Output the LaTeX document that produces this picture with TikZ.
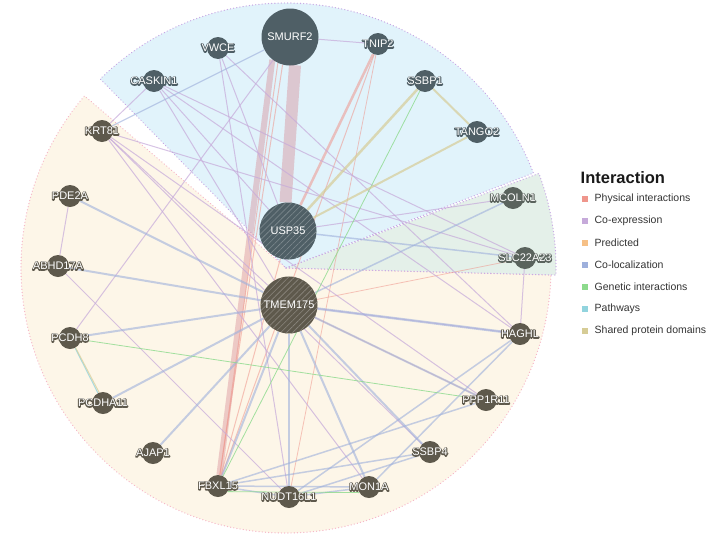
\documentclass[tikz,border=0pt]{standalone}
\usepackage{fontspec}
\setmainfont{Liberation Sans}
\usetikzlibrary{patterns.meta,positioning}

\definecolor{bsector}{RGB}{225,243,251}
\definecolor{ysector}{RGB}{253,246,232}
\definecolor{gsector}{RGB}{228,240,233}
\definecolor{bborder}{RGB}{200,168,228}
\definecolor{yborder}{RGB}{246,184,200}
\definecolor{bnodec}{RGB}{79,95,102}
\definecolor{ynodec}{RGB}{94,89,76}
\definecolor{gnodec}{RGB}{90,99,93}
\definecolor{physc}{RGB}{239,150,140}
\definecolor{bandc}{RGB}{215,140,150}
\definecolor{coexpc}{RGB}{198,170,218}
\definecolor{predc}{RGB}{246,192,134}
\definecolor{colocc}{RGB}{158,176,220}
\definecolor{genetc}{RGB}{140,218,140}
\definecolor{pathc}{RGB}{146,212,222}
\definecolor{shdomc}{RGB}{214,204,150}

% stroked text for the dark halo round the labels
\newcommand{\halo}[1]{\special{pdf:literal direct 1 Tr 2 w 1 j}#1\special{pdf:literal direct 0 Tr 1 w 0 j}}

\pgfdeclarelayer{sectors}
\pgfdeclarelayer{edges}
\pgfsetlayers{sectors,edges,main}

\tikzset{gene/.style={circle, inner sep=0pt, minimum size=22pt, fill=#1}}
\tikzset{hub/.style={gene=#1, minimum size=57pt}}
\tikzset{query/.style={hub=#1, postaction={pattern={Lines[angle=45, distance=4.2pt, line width=0.6pt]}, pattern color=#1!72!white}}}
\tikzset{glabel/.style={text=white, inner sep=0pt, font=\fontsize{11}{11}\selectfont}}
\tikzset{ghalo/.style={text=#1, inner sep=0pt, font=\fontsize{11}{11}\selectfont}}
\tikzset{border/.style={line width=1.3pt, dash pattern=on 0.1pt off 3.1pt, line cap=round}}
\tikzset{phys/.style={draw=physc, opacity=0.55, line width=#1}, phys/.default=1pt}
\tikzset{band/.style={draw=bandc, opacity=0.42, line width=#1}}
\tikzset{coexp/.style={draw=coexpc, opacity=0.7, line width=#1}, coexp/.default=1pt}
\tikzset{coloc/.style={draw=colocc, opacity=0.6, line width=#1}, coloc/.default=2pt}
\tikzset{genet/.style={draw=genetc, opacity=0.8, line width=#1}, genet/.default=0.8pt}
\tikzset{pathw/.style={draw=pathc, opacity=0.8, line width=#1}, pathw/.default=1pt}
\tikzset{shdom/.style={draw=shdomc, opacity=0.7, line width=#1}, shdom/.default=2pt}
\tikzset{legbox/.style={minimum size=6.5pt, inner sep=0pt}}
\tikzset{legtext/.style={inner sep=0pt, text=black!80, font=\fontsize{10.5}{10.5}\selectfont}}

\begin{document}
\begin{tikzpicture}[x=1pt, y=1pt]
\useasboundingbox (0,0) rectangle (709,-536);
\coordinate (c) at (286,-268);

% sectors
\begin{pgfonlayer}{sectors}
\fill[ysector] (c) -- ++(139.5:265) arc[start angle=139.5, end angle=358.5, radius=265] -- cycle;
\draw[yborder, border] (c) -- ++(139.5:265) arc[start angle=139.5, end angle=358.5, radius=265] -- cycle;
\fill[bsector] (c) -- ++(21:265) arc[start angle=21, end angle=134.5, radius=265] -- cycle;
\draw[bborder, border] (c) -- ++(21:265) arc[start angle=21, end angle=134.5, radius=265] -- cycle;
\fill[gsector] (c) -- ++(-1.5:270) arc[start angle=-1.5, end angle=20.5, radius=270] -- cycle;
\draw[bborder, border] (c) -- ++(-1.5:270) arc[start angle=-1.5, end angle=20.5, radius=270] -- cycle;
\end{pgfonlayer}

% genes
\path (290,-37) node[hub=bnodec] (smurf) {} node[glabel] (smurfl) {SMURF2};
\path (218,-48) node[gene=bnodec] (vwce) {} node[ghalo=bnodec] (vwceh) {\halo{VWCE}} node[glabel] (vwcel) {VWCE};
\path (378,-44) node[gene=bnodec] (tnip) {} node[ghalo=bnodec] (tniph) {\halo{TNIP2}} node[glabel] (tnipl) {TNIP2};
\path (154,-81) node[gene=bnodec] (caskin) {} node[ghalo=bnodec] (caskinh) {\halo{CASKIN1}} node[glabel] (caskinl) {CASKIN1};
\path (425,-81) node[gene=bnodec] (ssbpa) {} node[ghalo=bnodec] (ssbpah) {\halo{SSBP1}} node[glabel] (ssbpal) {SSBP1};
\path (477,-132) node[gene=bnodec] (tango) {} node[ghalo=bnodec] (tangoh) {\halo{TANGO2}} node[glabel] (tangol) {TANGO2};
\path (288,-231) node[query=bnodec] (usp) {} node[glabel] (uspl) {USP35};
\path (513,-198) node[gene=gnodec] (mcoln) {} node[ghalo=gnodec] (mcolnh) {\halo{MCOLN1}} node[glabel] (mcolnl) {MCOLN1};
\path (525,-258) node[gene=gnodec] (slc) {} node[ghalo=gnodec] (slch) {\halo{SLC22A23}} node[glabel] (slcl) {SLC22A23};
\path (289,-305) node[query=ynodec] (tmem) {} node[glabel] (tmeml) {TMEM175};
\path (102,-131) node[gene=ynodec] (krt) {} node[ghalo=ynodec] (krth) {\halo{KRT81}} node[glabel] (krtl) {KRT81};
\path (70,-196) node[gene=ynodec] (pde) {} node[ghalo=ynodec] (pdeh) {\halo{PDE2A}} node[glabel] (pdel) {PDE2A};
\path (58,-266) node[gene=ynodec] (abhd) {} node[ghalo=ynodec] (abhdh) {\halo{ABHD17A}} node[glabel] (abhdl) {ABHD17A};
\path (70,-338) node[gene=ynodec] (pcdh) {} node[ghalo=ynodec] (pcdhh) {\halo{PCDH8}} node[glabel] (pcdhl) {PCDH8};
\path (103,-403) node[gene=ynodec] (pcdha) {} node[ghalo=ynodec] (pcdhah) {\halo{PCDHA11}} node[glabel] (pcdhal) {PCDHA11};
\path (153,-453) node[gene=ynodec] (ajap) {} node[ghalo=ynodec] (ajaph) {\halo{AJAP1}} node[glabel] (ajapl) {AJAP1};
\path (218,-486) node[gene=ynodec] (fbxl) {} node[ghalo=ynodec] (fbxlh) {\halo{FBXL15}} node[glabel] (fbxll) {FBXL15};
\path (289,-497) node[gene=ynodec] (nudt) {} node[ghalo=ynodec] (nudth) {\halo{NUDT16L1}} node[glabel] (nudtl) {NUDT16L1};
\path (369,-487) node[gene=ynodec] (mon) {} node[ghalo=ynodec] (monh) {\halo{MON1A}} node[glabel] (monl) {MON1A};
\path (430,-452) node[gene=ynodec] (ssbpd) {} node[ghalo=ynodec] (ssbpdh) {\halo{SSBP4}} node[glabel] (ssbpdl) {SSBP4};
\path (486,-400) node[gene=ynodec] (ppp) {} node[ghalo=ynodec] (ppph) {\halo{PPP1R11}} node[glabel] (pppl) {PPP1R11};
\path (520,-334) node[gene=ynodec] (haghl) {} node[ghalo=ynodec] (haghlh) {\halo{HAGHL}} node[glabel] (haghll) {HAGHL};

% interactions
\begin{pgfonlayer}{edges}
\draw[band=12pt] (smurf.280) -- (usp.95);
\draw[band=6pt] (smurf.232) -- (fbxl);
\draw[phys] (smurf.245) -- (fbxl.80);
\draw[phys] (smurf.255) -- (fbxl);
\draw[phys=2.5pt] (tnip) -- (usp);
\draw[phys] (tnip) -- (fbxl);
\draw[phys=0.8pt] (tnip) -- (nudt);
\draw[phys] (usp) -- (fbxl);
\draw[phys=0.8pt] (tmem) -- (ppp);
\draw[phys=0.8pt] (tmem) -- (slc);
\draw[coexp] (smurf) -- (tnip);
\draw[coexp] (smurf) -- (pcdh);
\draw[coexp] (krt) -- (caskin);
\draw[coexp] (vwce) -- (usp);
\draw[coexp] (vwce) -- (nudt);
\draw[coexp] (vwce) -- (haghl);
\draw[coexp] (caskin) -- (slc);
\draw[coexp] (caskin) -- (haghl);
\draw[coexp] (caskin) -- (usp);
\draw[coexp] (caskin) -- (tmem);
\draw[coexp] (krt) -- (slc);
\draw[coexp] (krt) -- (tmem);
\draw[coexp] (krt) -- (ssbpd);
\draw[coexp] (krt) -- (ppp);
\draw[coexp] (krt) -- (mon);
\draw[coexp] (usp) -- (mcoln);
\draw[coexp] (slc) -- (haghl);
\draw[coexp] (pde) -- (abhd);
\draw[coexp] (abhd) -- (nudt);
\draw[coexp] (tmem) -- (haghl);
\draw[coloc=1.2pt] (krt) -- (smurf);
\draw[coloc] (tmem) -- (pde);
\draw[coloc] (tmem) -- (abhd);
\draw[coloc] (tmem) -- (pcdh);
\draw[coloc] (tmem) -- (pcdha);
\draw[coloc] (tmem) -- (ajap);
\draw[coloc] (tmem) -- (fbxl);
\draw[coloc] (tmem) -- (nudt);
\draw[coloc] (tmem) -- (mon);
\draw[coloc] (tmem) -- (ssbpd);
\draw[coloc] (tmem) -- (ppp);
\draw[coloc=2.5pt] (tmem) -- (haghl);
\draw[coloc=1.5pt] (tmem) -- (mcoln);
\draw[coloc=1.5pt] (usp) -- (slc);
\draw[coloc=1.5pt] (fbxl) -- (ssbpd);
\draw[coloc=1.5pt] (fbxl) -- (ppp);
\draw[coloc=1.5pt] (fbxl) -- (mon);
\draw[coloc=1.5pt] (fbxl) -- (nudt);
\draw[coloc=1.5pt] (nudt) -- (haghl);
\draw[coloc=1.5pt] (nudt) -- (ssbpd);
\draw[coloc=1.5pt] (nudt) -- (mon);
\draw[coloc=1.5pt] (mon) -- (haghl);
\draw[genet] (ssbpa) -- (fbxl);
\draw[genet] (pcdh) -- (ppp);
\draw[genet] (fbxl.-30) -- (mon.210);
\draw[pathw] (pcdh) -- (pcdha);
\draw[shdom] (ssbpa) -- (tango);
\draw[shdom=2.5pt] (ssbpa) -- (usp);
\draw[shdom] (tango) -- (usp);
\draw[shdom=1pt] (pcdh.-60) -- (pcdha.110);
\end{pgfonlayer}

% legend
\node[anchor=base west, inner sep=0pt, text=black!90, font=\fontsize{16.5}{16.5}\selectfont\bfseries] (legtitle) at (580.5,-183) {Interaction};
\foreach \c/\t [count=\i] in {physc/Physical interactions, coexpc/Co-expression, predc/Predicted, colocc/Co-localization, genetc/Genetic interactions, pathc/Pathways, shdomc/Shared protein domains}
{
  \node[legbox, fill=\c] (box\i) at (585,{-199-22*(\i-1)}) {};
  \node[legtext, right=6pt of box\i] (leg\i) {\t};
}
\end{tikzpicture}
\end{document}
